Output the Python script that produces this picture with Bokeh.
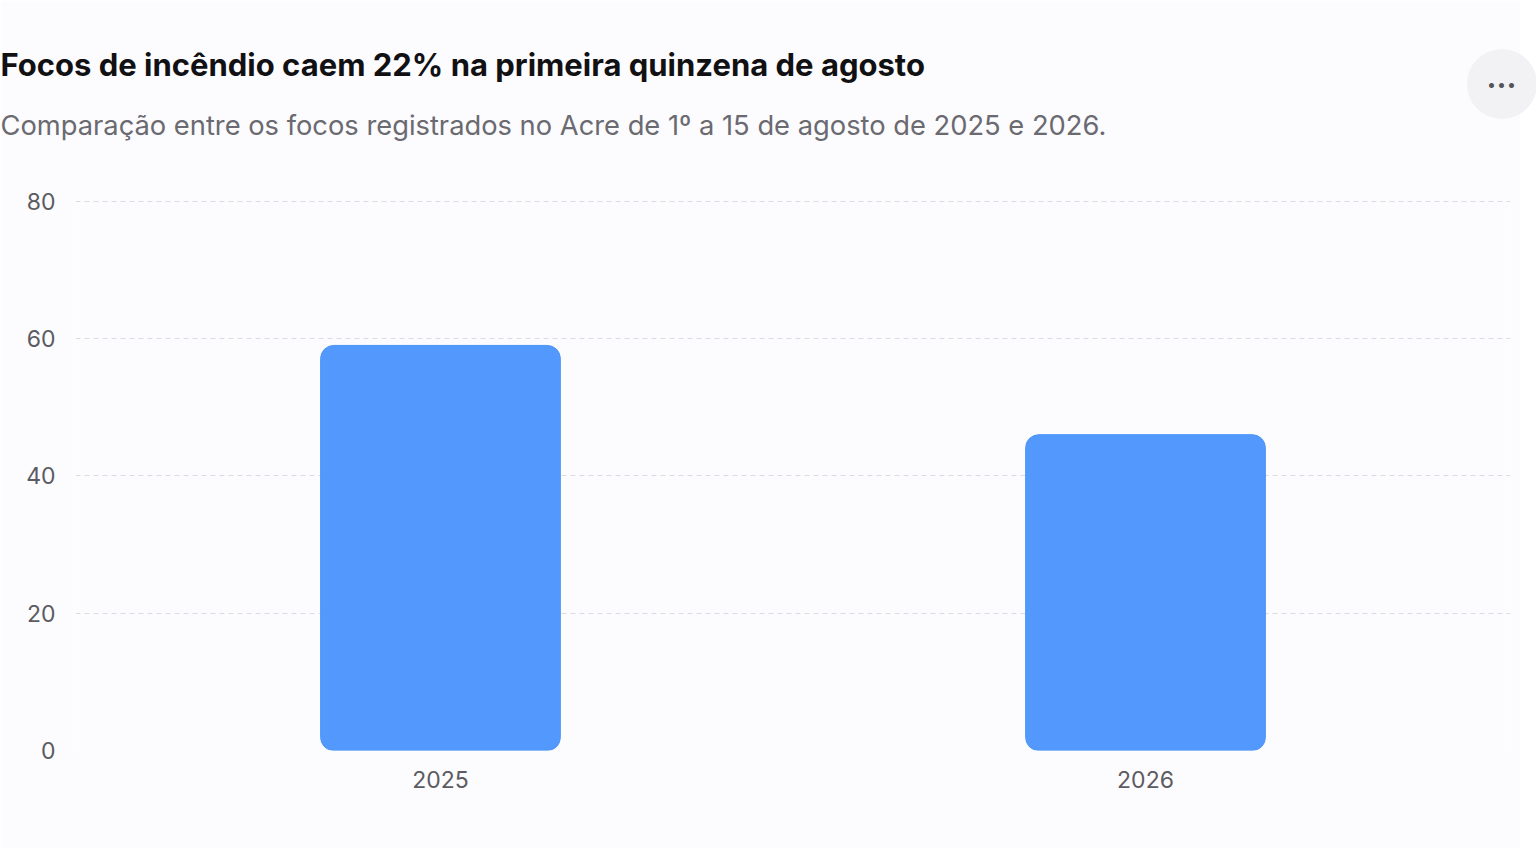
from bokeh.plotting import figure
from bokeh.models import FactorRange, Range1d, Title, ColumnDataSource, FixedTicker, Div
from bokeh.layouts import column
from bokeh.embed import file_html
from bokeh.resources import INLINE

# ---- data ----
years = ["2025", "2026"]
focos = [59, 46]
y_ticks = [0, 20, 40, 60, 80]

title_text = "Focos de incêndio caem 22% na primeira quinzena de agosto"
subtitle_text = "Comparação entre os focos registrados no Acre de 1º a 15 de agosto de 2025 e 2026."

BG = "#fcfbfe"
BAR = "#5399fd"
FONT = "Inter"

W, H = 1520, 848
FL, FB = 75, 750  # frame left / bottom in picture pixels

p = figure(
    width=W, height=H,
    x_range=FactorRange(factors=years, range_padding=0.0177),
    y_range=Range1d(0, 80.4),
    output_backend="svg", toolbar_location=None,
    min_border_left=FL, min_border_right=10, min_border_bottom=H - FB, min_border_top=198,
    background_fill_color=BG, border_fill_color=BG, outline_line_color=None,
)

src = ColumnDataSource(dict(x=years, top=focos))
p.vbar(x="x", top="top", width=0.34, source=src, fill_color=BAR,
       line_color="#4c94f7", line_width=1, border_radius=13)

# axes
p.yaxis.ticker = FixedTicker(ticks=y_ticks)
for ax in (p.xaxis[0], p.yaxis[0]):
    ax.axis_line_color = None
    ax.major_tick_line_color = None
    ax.minor_tick_line_color = None
    ax.major_label_text_font = FONT
    ax.major_label_text_font_size = "23px"
    ax.major_label_text_color = "#5b5b61"
p.xaxis.major_label_standoff = 14
p.yaxis.major_label_standoff = 14

p.xgrid.grid_line_color = None
p.ygrid.grid_line_color = "#dcdbe1"
p.ygrid.grid_line_dash = "5 4"
p.ygrid.grid_line_width = 1

# titles (subtitle first -> closer to the plot); padding is (left, right, top, bottom)
sub = Title(text=subtitle_text, align="left", text_font=FONT, text_font_size="27.3px",
            text_font_style="normal", text_color="#6a6a70", offset=-75, standoff=0,
            padding=(0, 0, 0, 57))
p.add_layout(sub, "above")
ttl = Title(text=title_text, align="left", text_font=FONT, text_font_size="31px",
            text_font_style="bold", text_color="#111114", offset=-75, standoff=0,
            padding=(0, 0, 0, 24))
p.add_layout(ttl, "above")

# menu button (overlaid on the figure)
btn = Div(text="•••", width=70, height=70, styles={
    "position": "absolute", "left": "1462px", "top": "44px", "z-index": "10",
    "background-color": "#f2f1f4", "border-radius": "50%",
    "display": "flex", "align-items": "center", "justify-content": "center",
    "font-family": "Inter", "font-size": "16px", "color": "#555559",
    "letter-spacing": "1px",
})

layout = column(p, btn, spacing=0)
open("out.html", "w").write(file_html(layout, INLINE))
